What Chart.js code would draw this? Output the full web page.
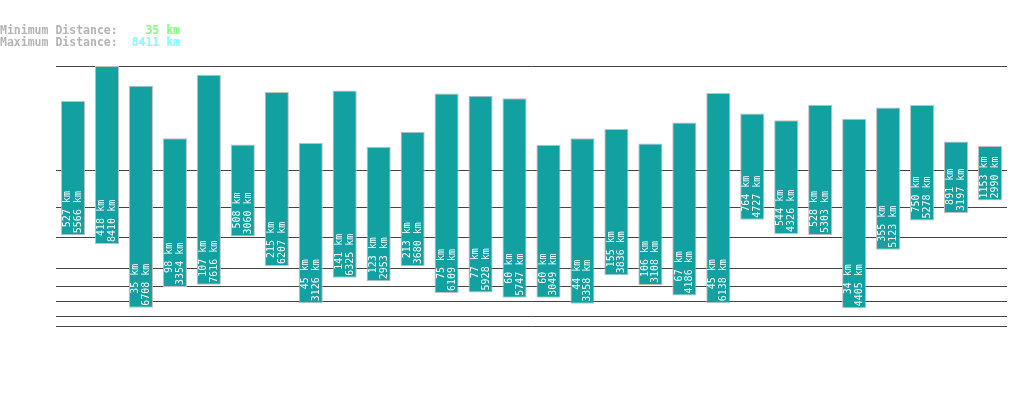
<!DOCTYPE html>
<html>
<head>
<meta charset="utf-8">
<script src="https://cdn.jsdelivr.net/npm/chart.js@4/dist/chart.umd.min.js"></script>
<style>
  html, body { margin: 0; padding: 0; background: #fff; }
  #wrap { position: relative; width: 1019px; height: 402px; }
  #head {
    position: absolute; left: 0; top: 24px; margin: 0;
    font: bold 11.5px "DejaVu Sans Mono", monospace; line-height: 12.3px;
    color: #b4b4b4; white-space: pre;
  }
  #head .mn { color: #80ff80; }
  #head .mx { color: #80ffff; }
</style>
</head>
<body>
<div id="wrap">
  <pre id="head"></pre>
  <canvas id="c" width="1019" height="402"></canvas>
</div>
<script>
// ---- data ----
const trips = ['1','2','3','4','5','6','7','8','9','10','11','12','13','14','15','16','17','18','19','20','21','22','23','24','25','26','27','28'];
const minKm = [527, 418, 35, 98, 107, 508, 215, 45, 141, 123, 213, 75, 77, 60, 60, 44, 155, 106, 67, 45, 764, 544, 528, 34, 355, 750, 891, 1153];
const maxKm = [5566, 8410, 6708, 3354, 7616, 3060, 6207, 3126, 6325, 2953, 3680, 6109, 5928, 5747, 3049, 3358, 3836, 3108, 4186, 6138, 4727, 4326, 5303, 4405, 5123, 5278, 3197, 2990];
const gridKm = [10, 20, 50, 100, 200, 500, 1000, 2000, 8411];
const summaryMin = 35;
const summaryMax = 8411;

// header text
document.getElementById('head').innerHTML =
  'Minimum Distance:    <span class="mn">' + summaryMin + ' km</span>\n' +
  'Maximum Distance:  <span class="mx">' + summaryMax + ' km</span>';

// power scale (y ~ v^0.3)
const POW = 0.3;
class PowerScale extends Chart.LinearScale {
  buildTicks() {
    return gridKm.filter(v => v >= this.min && v <= this.max).map(v => ({ value: v }));
  }
  getPixelForValue(value) {
    const a = Math.pow(this.min, POW), b = Math.pow(this.max, POW);
    return this.getPixelForDecimal((Math.pow(value, POW) - a) / (b - a));
  }
  getValueForPixel(pixel) {
    const a = Math.pow(this.min, POW), b = Math.pow(this.max, POW);
    return Math.pow(a + this.getDecimalForPixel(pixel) * (b - a), 1 / POW);
  }
}
PowerScale.id = 'power';
PowerScale.defaults = {};
Chart.register(PowerScale);

// min/max labels inside each bar, rotated
const barLabels = {
  id: 'barLabels',
  afterDatasetsDraw(chart) {
    const ctx = chart.ctx;
    const meta = chart.getDatasetMeta(0);
    ctx.save();
    ctx.font = '10px "DejaVu Sans Mono", monospace';
    ctx.fillStyle = '#ffffff';
    ctx.textBaseline = 'middle';
    ctx.textAlign = 'right';
    meta.data.forEach((bar, i) => {
      const lines = [minKm[i] + ' km', maxKm[i] + ' km'];
      const w = Math.max(...lines.map(s => ctx.measureText(s).width));
      const bottom = Math.max(bar.y, bar.base);
      ctx.save();
      ctx.translate(bar.x, bottom - 2);
      ctx.rotate(-Math.PI / 2);
      ctx.fillText(lines[0], w, -5.4);
      ctx.fillText(lines[1], w, 5.4);
      ctx.restore();
    });
    ctx.restore();
  }
};

new Chart(document.getElementById('c'), {
  type: 'bar',
  data: {
    labels: trips,
    datasets: [{
      data: minKm.map((v, i) => [v, maxKm[i]]),
      backgroundColor: '#12a0a0',
      borderColor: '#c0c0c0',
      borderWidth: 1,
      borderSkipped: false,
      barPercentage: 0.71,
      categoryPercentage: 1
    }]
  },
  options: {
    responsive: false,
    animation: false,
    layout: { padding: { left: 56, right: 12, top: 66, bottom: 76 } },
    plugins: { legend: { display: false }, tooltip: { enabled: false } },
    scales: {
      x: { display: false },
      y: {
        type: 'power',
        min: 10,
        max: 8411,
        grid: { color: '#444444', lineWidth: 1, drawTicks: false },
        border: { display: false },
        ticks: { display: false }
      }
    }
  },
  plugins: [barLabels]
});
</script>
</body>
</html>
